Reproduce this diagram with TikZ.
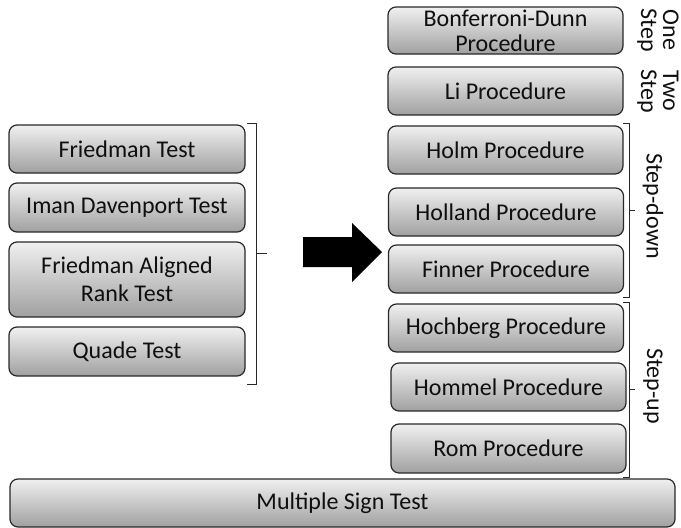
\documentclass[tikz,border=0pt]{standalone}
\usepackage{fontspec}
\setmainfont{Carlito}
\definecolor{boxtop}{RGB}{240,240,240}
\definecolor{boxbot}{RGB}{160,160,160}
\definecolor{boxline}{RGB}{40,40,40}
\definecolor{txtdark}{RGB}{15,15,15}
\tikzset{
  proc/.style={draw=boxline, line width=1.2pt, rounded corners=8pt,
               top color=boxtop, bottom color=boxbot, inner sep=0pt, text=txtdark,
               align=center, font=\fontsize{24}{28}\selectfont,
               minimum width=235pt, minimum height=48pt},
  brk/.style={draw=boxline, line width=0.8pt},
  side/.style={rotate=-90, text=txtdark, align=center, font=\fontsize{24}{22}\selectfont},
}

\begin{document}
\begin{tikzpicture}[x=1pt, y=-1pt]
    \useasboundingbox (0,0) rectangle (681,528);
    % omnibus tests
    \node[proc, minimum width=236pt] (friedman) at (127,149) {Friedman Test};
    \node[proc, minimum width=236pt, minimum height=49pt] (iman) at (127,207.5) {Iman Davenport Test};
    \node[proc, minimum width=236pt, minimum height=75pt] (aligned) at (127,279.5) {Friedman Aligned\\Rank Test};
    \node[proc, minimum width=236pt, minimum height=49pt] (quade) at (127,351.5) {Quade Test};
    \draw[brk] (247,123) -- (256,123) -- (256,384) -- (247,384);
    \draw[brk] (256,253) -- (267,253);
    % big arrow
    \fill[black] (303,237) -- (352,237) -- (352,223) -- (382,252) -- (352,282) -- (352,267) -- (303,267) -- cycle;
    % post-hoc procedures
    \node[proc, minimum height=47pt, font=\fontsize{24}{25}\selectfont] (bonf) at (505.5,30.5) {Bonferroni-Dunn\\Procedure};
    \node[proc] (li) at (505.5,91) {Li Procedure};
    \node[proc] (holm) at (505.5,150) {Holm Procedure};
    \node[proc] (holland) at (506,212) {Holland Procedure};
    \node[proc] (finner) at (506,269) {Finner Procedure};
    \node[proc] (hochberg) at (506,328) {Hochberg Procedure};
    \node[proc] (hommel) at (508.5,387) {Hommel Procedure};
    \node[proc, minimum height=49pt] (rom) at (508.5,448.5) {Rom Procedure};
    \node[side] (onestep) at (658,30) {One\\Step};
    \node[side] (twostep) at (658,91) {Two\\Step};
    \draw[brk] (623,123) -- (629,123) -- (629,297) -- (623,297);
    \draw[brk] (629,210) -- (635,210);
    \node[side] (stepdown) at (653,206) {Step-down};
    \draw[brk] (623,302) -- (629,302) -- (629,477) -- (623,477);
    \draw[brk] (629,389) -- (635,389);
    \node[side] (stepup) at (653,386) {Step-up};
    % bottom bar
    \node[proc, minimum width=665pt] (sign) at (342.5,503) {Multiple Sign Test};
\end{tikzpicture}
\end{document}
